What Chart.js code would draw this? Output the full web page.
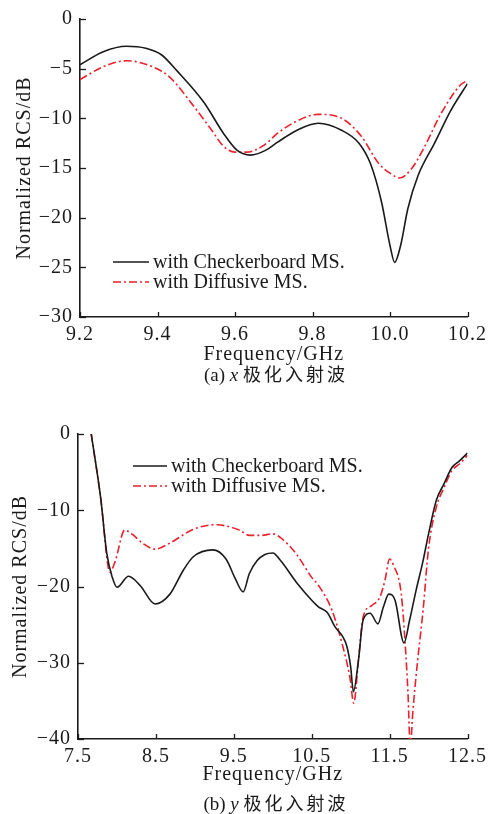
<!DOCTYPE html>
<html>
<head>
<meta charset="utf-8">
<script src="https://cdn.jsdelivr.net/npm/chart.js@4.4.0/dist/chart.umd.min.js"></script>
<style>
    body { margin: 0; background: #fff; width: 491px; height: 814px; position: relative; overflow: hidden; }
    canvas { position: absolute; left: 0; }
    .cap { position: absolute; left: 0; width: 552px; text-align: center; color: #1a1a1a;
           font: 19px 'Liberation Serif', 'Noto Sans CJK SC', serif; line-height: 24px; }
    .cap .zh { font-family: 'Noto Sans CJK SC', sans-serif; font-size: 18px; letter-spacing: 3px; }
</style>
</head>
<body>
<canvas id="chartX" width="491" height="368" style="top:0"></canvas>
<div class="cap" style="top:361px">(a) <i>x</i> <span class="zh">极化入射波</span></div>
<canvas id="chartY" width="491" height="375" style="top:415px"></canvas>
<div class="cap" style="top:790px">(b) <i>y</i> <span class="zh">极化入射波</span></div>

<script>
// === DATA: (a) x-polarized incident wave ===
const freqCheckX = [9.2, 9.26, 9.32, 9.37, 9.41, 9.45, 9.52, 9.57, 9.605, 9.64, 9.68, 9.71, 9.76, 9.815,
                    9.875, 9.92, 9.95, 9.978, 10.0, 10.012, 10.028, 10.046, 10.072, 10.115, 10.157, 10.2];
const rcsCheckX  = [-4.6, -3.3, -2.75, -2.95, -3.6, -5.2, -8.4, -11.5, -13.2, -13.7, -13.2, -12.4, -11.2, -10.5,
                    -11.2, -12.5, -14.6, -18.4, -22.8, -24.5, -22.7, -19.1, -15.8, -12.5, -9.2, -6.5];
const freqDiffX  = [9.2, 9.26, 9.32, 9.39, 9.43, 9.49, 9.54, 9.57, 9.6, 9.63, 9.675, 9.71, 9.756, 9.815,
                    9.875, 9.926, 9.97, 10.003, 10.025, 10.055, 10.09, 10.132, 10.183, 10.2];
const rcsDiffX   = [-6.1, -4.8, -4.2, -4.85, -5.8, -8.6, -11.2, -12.8, -13.4, -13.4, -12.7, -11.5, -10.35, -9.6,
                    -10.0, -11.8, -14.5, -15.6, -16.0, -15.1, -12.8, -9.5, -6.6, -6.2];

// === DATA: (b) y-polarized incident wave ===
const freqCheckY = [7.67, 7.79, 7.87, 7.94, 8.0, 8.15, 8.3, 8.49, 8.68, 8.85, 8.98, 9.23, 9.4, 9.52, 9.62,
                    9.7, 9.8, 9.9, 10.0, 10.1, 10.3, 10.5, 10.59, 10.7, 10.8, 10.9, 10.95, 11.0, 11.035,
                    11.1, 11.16, 11.25, 11.35, 11.42, 11.49, 11.57, 11.685, 11.757, 11.84, 11.93, 12.0,
                    12.1, 12.2, 12.3, 12.4, 12.5];
const rcsCheckY  = [0, -8.3, -15.7, -18.8, -20.1, -18.65, -19.9, -22.3, -21.0, -17.9, -16.1, -15.2, -16.4, -19.0, -20.7,
                    -18.3, -16.6, -15.8, -15.6, -16.6, -19.4, -21.8, -22.7, -23.4, -25.3, -26.6, -27.8, -30.5, -33.8,
                    -29.7, -24.4, -23.5, -24.9, -22.7, -21.0, -21.8, -27.4, -24.4, -20.5, -16.6, -13.1,
                    -8.7, -6.5, -4.4, -3.5, -2.5];
const freqDiffY  = [7.67, 7.79, 7.91, 7.98, 8.1, 8.19, 8.34, 8.49, 8.68, 8.98, 9.27, 9.57, 9.7, 9.85, 10.0,
                    10.1, 10.3, 10.5, 10.59, 10.76, 10.89, 10.99, 11.04, 11.1, 11.16, 11.27, 11.375, 11.44,
                    11.5, 11.55, 11.65, 11.7, 11.736, 11.765, 11.8, 11.86, 11.93, 12.0, 12.1, 12.2, 12.3,
                    12.4, 12.5];
const rcsDiffY   = [0, -8.3, -18.1, -16.6, -12.6, -13.1, -14.4, -15.1, -14.3, -12.5, -11.9, -12.6, -13.3, -13.3, -13.1,
                    -13.6, -15.7, -18.8, -19.9, -23.1, -27.5, -31.9, -35.3, -29.7, -24.0, -22.5, -21.4, -19.2,
                    -16.4, -17.2, -21.0, -27.5, -34.0, -41.0, -36.2, -29.7, -23.1, -15.0, -9.6, -7.0, -4.8,
                    -3.9, -2.8];

const seriesLabels = ['with Checkerboard MS.', 'with Diffusive MS.'];

// === COMMON STYLE ===
Chart.defaults.font.family = "'Liberation Serif', 'Times New Roman', serif";
Chart.defaults.font.size = 20;
Chart.defaults.color = '#1a1a1a';

const INK = '#1a1a1a';
const RED = '#e8212b';
const toPoints = (xs, ys) => xs.map((x, i) => ({ x, y: ys[i] }));
const minus = v => String(v).replace('-', '\u2212');

// the printed figure uses a slightly spaced typeface for axis text
const spacedText = {
    id: 'spacedText',
    beforeDraw(chart) { chart.ctx.letterSpacing = '1px'; }
};

// short inward tick marks on left + bottom axes
const innerTicks = {
    id: 'innerTicks',
    afterDraw(chart) {
        const ctx = chart.ctx;
        const { left, bottom } = chart.chartArea;
        const xs = chart.scales.x, ys = chart.scales.y;
        ctx.save();
        ctx.strokeStyle = INK;
        ctx.lineWidth = 1.3;
        xs.ticks.forEach(t => {
            const px = Math.round(xs.getPixelForValue(t.value)) + 0.5;
            ctx.beginPath(); ctx.moveTo(px, bottom); ctx.lineTo(px, bottom - 5); ctx.stroke();
        });
        ys.ticks.forEach(t => {
            const py = Math.round(ys.getPixelForValue(t.value)) + 0.5;
            ctx.beginPath(); ctx.moveTo(left, py); ctx.lineTo(left + 6, py); ctx.stroke();
        });
        ctx.restore();
    }
};

// legend drawn inside plot area
const innerLegend = {
    id: 'innerLegend',
    afterDraw(chart, args, opts) {
        const ctx = chart.ctx;
        ctx.save();
        ctx.letterSpacing = '0px';
        ctx.font = "20px 'Liberation Serif', serif";
        ctx.textBaseline = 'middle';
        ctx.fillStyle = INK;
        chart.data.datasets.forEach((ds, i) => {
            const y = opts.y + i * opts.rowH;
            ctx.strokeStyle = ds.borderColor;
            ctx.lineWidth = ds.borderWidth;
            ctx.setLineDash(ds.borderDash || []);
            ctx.beginPath(); ctx.moveTo(opts.x, y); ctx.lineTo(opts.x + opts.len, y); ctx.stroke();
            ctx.setLineDash([]);
            ctx.fillText(ds.label, opts.x + opts.len + 4, y + 1);
        });
        ctx.restore();
    }
};

function makeChart(id, check, diff, ax) {
    return new Chart(document.getElementById(id), {
        type: 'line',
        data: {
            datasets: [{
                label: seriesLabels[0], data: check,
                borderColor: INK, borderWidth: 1.6,
                pointRadius: 0, cubicInterpolationMode: 'monotone'
            }, {
                label: seriesLabels[1], data: diff,
                borderColor: RED, borderWidth: 1.6, borderDash: [8, 3, 2, 3],
                pointRadius: 0, cubicInterpolationMode: 'monotone'
            }]
        },
        options: {
            responsive: false, animation: false,
            layout: { padding: { top: ax.padTop, right: 21, left: 0, bottom: 0 } },
            plugins: {
                legend: { display: false }, tooltip: { enabled: false },
                innerLegend: ax.legend
            },
            scales: {
                x: {
                    type: 'linear', min: ax.xMin, max: ax.xMax,
                    afterFit: s => { s.height = 51; },
                    ticks: { stepSize: ax.xStep, padding: 6, maxRotation: 0, autoSkip: false,
                             callback: v => v.toFixed(1) },
                    grid: { display: true, drawOnChartArea: false, drawTicks: false },
                    border: { display: true, color: INK, width: 1.6 },
                    title: { display: true, text: 'Frequency/GHz', padding: { top: 0, bottom: ax.xTitlePad } }
                },
                y: {
                    min: ax.yMin, max: 0,
                    afterFit: s => { s.width = ax.yWidth; },
                    ticks: { stepSize: ax.yStep, padding: 7, callback: minus },
                    grid: { display: true, drawOnChartArea: false, drawTicks: false },
                    border: { display: true, color: INK, width: 1.6 },
                    title: { display: true, text: 'Normalized RCS/dB', padding: { top: ax.yTitlePad, bottom: 0 } }
                }
            }
        },
        plugins: [spacedText, innerTicks, innerLegend]
    });
}

// === (a) x POLARIZATION ===
makeChart('chartX', toPoints(freqCheckX, rcsCheckX), toPoints(freqDiffX, rcsDiffX), {
    padTop: 13.5, xMin: 9.2, xMax: 10.2, xStep: 0.2, yMin: -30, yStep: 5,
    yWidth: 80, yTitlePad: 13, xTitlePad: 1,
    legend: { x: 113, y: 262, len: 36, rowH: 20 }
});

// === (b) y POLARIZATION ===
makeChart('chartY', toPoints(freqCheckY, rcsCheckY), toPoints(freqDiffY, rcsDiffY), {
    padTop: 18, xMin: 7.5, xMax: 12.5, xStep: 1, yMin: -40, yStep: 10,
    yWidth: 78, yTitlePad: 9, xTitlePad: 3,
    legend: { x: 133, y: 51, len: 34, rowH: 20 }
});
</script>
</body>
</html>
